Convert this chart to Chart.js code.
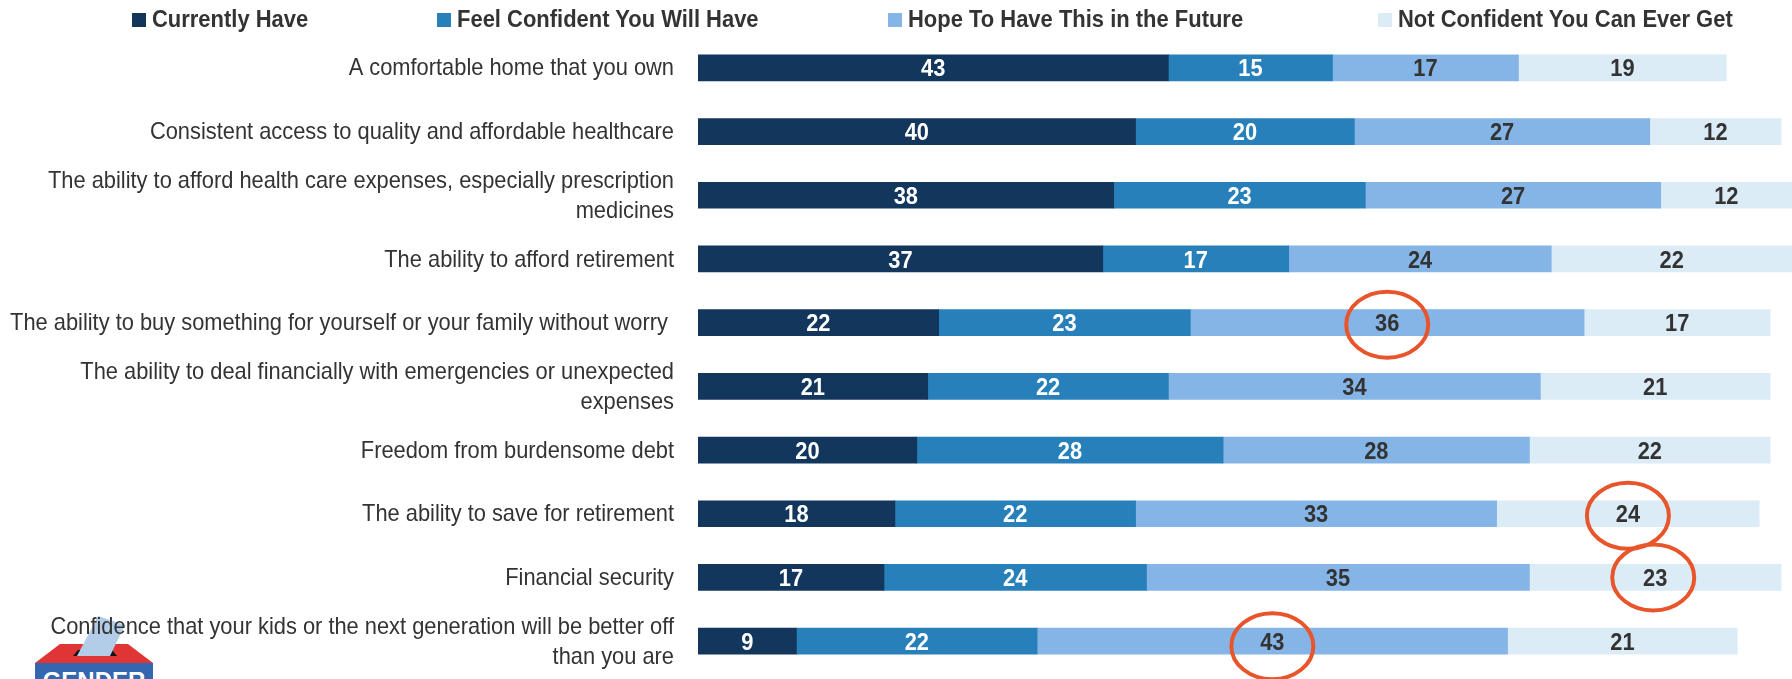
<!DOCTYPE html>
<html>
<head>
<meta charset="utf-8">
<title>Gender chart</title>
<script src="https://cdn.jsdelivr.net/npm/chart.js@4/dist/chart.umd.min.js"></script>
<style>
    html, body { margin: 0; padding: 0; background: #fff; overflow: hidden; }
    #wrap { position: relative; width: 1792px; height: 679px; overflow: hidden; }
    #myChart { position: absolute; left: 0; top: 0; z-index: 2; }
    #logo { position: absolute; left: 0; top: 0; z-index: 1; }
    .leg { position: absolute; top: 5px; z-index: 3; white-space: nowrap; color: #333;
        font: bold 24px "Liberation Sans"; line-height: 28px; }
    .leg i { position: absolute; left: 0; top: 8px; width: 14px; height: 14px; }
    .leg span { position: absolute; left: 20px; top: 0; transform: scaleX(0.915); transform-origin: 0 0; }
</style>
</head>
<body>
<div id="wrap">
    <svg id="logo" width="1792" height="679">
        <polygon points="35,663 60,644 128,644 153,663" fill="#E03535"/>
        <rect x="35" y="663" width="118" height="16" fill="#3566B0"/>
        <polygon points="73,656 78,650 112,650 117,656" fill="#111"/>
        <polygon points="77,656 110,656 125,625 98,616" fill="#B3CDE8"/>
        <text x="94" y="689" text-anchor="middle" fill="#fff" font-family="Liberation Sans" font-weight="bold" font-size="24">GENDER</text>
    </svg>
    <canvas id="myChart" width="1792" height="679"></canvas>
</div>
<script>
const categories = [
    'A comfortable home that you own',
    'Consistent access to quality and affordable healthcare',
    ['The ability to afford health care expenses, especially prescription', 'medicines'],
    'The ability to afford retirement',
    'The ability to buy something for yourself or your family without worry ',
    ['The ability to deal financially with emergencies or unexpected', 'expenses'],
    'Freedom from burdensome debt',
    'The ability to save for retirement',
    'Financial security',
    ['Confidence that your kids or the next generation will be better off', 'than you are']
];
const seriesNames = ['Currently Have', 'Feel Confident You Will Have', 'Hope To Have This in the Future', 'Not Confident You Can Ever Get'];
const currentlyHave = [43, 40, 38, 37, 22, 21, 20, 18, 17, 9];
const feelConfident = [15, 20, 23, 17, 23, 22, 28, 22, 24, 22];
const hopeToHave = [17, 27, 27, 24, 36, 34, 28, 33, 35, 43];
const notConfident = [19, 12, 12, 22, 17, 21, 22, 24, 23, 21];

const colors = ['#13375C', '#2880BA', '#85B5E6', '#DCECF7'];
const labelColors = ['#fff', '#fff', '#333', '#333'];
const legendX = [132, 437, 888, 1378];
const narrow = 0.91; // no narrow font here, so squeeze the text

// circled values: [row, series, x offset, y offset]
const circled = [[4, 2, 0, 2], [7, 3, 0, 2], [8, 3, -2, 0], [9, 2, 0, 5]];

// legend is html, the spacing of the original is uneven
seriesNames.forEach(function(name, i) {
    let el = document.createElement('div');
    el.className = 'leg';
    el.style.left = legendX[i] + 'px';
    el.innerHTML = '<i style="background:' + colors[i] + '"></i><span>' + name + '</span>';
    document.getElementById('wrap').appendChild(el);
});

function narrowText(ctx, text, x, y) {
    ctx.save();
    ctx.translate(x, y);
    ctx.scale(narrow, 1);
    ctx.fillText(text, 0, 0);
    ctx.restore();
}

const barLabels = {
    id: 'barLabels',
    afterDatasetsDraw(chart) {
        let ctx = chart.ctx;
        ctx.save();

        // category labels
        ctx.font = '24px "Liberation Sans"';
        ctx.fillStyle = '#333';
        ctx.textAlign = 'right';
        ctx.textBaseline = 'middle';
        categories.forEach(function(cat, i) {
            let y = chart.scales.y.getPixelForValue(i) + 1;
            if (Array.isArray(cat)) {
                narrowText(ctx, cat[0], 674, y - 15);
                narrowText(ctx, cat[1], 674, y + 15);
            } else {
                narrowText(ctx, cat, 674, y);
            }
        });

        // values
        ctx.font = 'bold 24px "Liberation Sans"';
        ctx.textAlign = 'center';
        chart.data.datasets.forEach(function(ds, i) {
            ctx.fillStyle = labelColors[i];
            chart.getDatasetMeta(i).data.forEach(function(bar, j) {
                narrowText(ctx, ds.data[j], (bar.base + bar.x) / 2, bar.y + 2);
            });
        });

        ctx.strokeStyle = '#E9552B';
        ctx.lineWidth = 4;
        circled.forEach(function(c) {
            let bar = chart.getDatasetMeta(c[1]).data[c[0]];
            ctx.beginPath();
            ctx.ellipse((bar.base + bar.x) / 2 + c[2], bar.y + c[3], 41, 33, 0, 0, Math.PI * 2);
            ctx.stroke();
        });
        ctx.restore();
    }
};

let ctx = document.getElementById('myChart').getContext('2d');
new Chart(ctx, {
    type: 'bar',
    data: {
        labels: categories,
        datasets: [currentlyHave, feelConfident, hopeToHave, notConfident].map(function(values, i) {
            return { label: seriesNames[i], data: values, backgroundColor: colors[i], barThickness: 26 };
        })
    },
    options: {
        indexAxis: 'y',
        responsive: false,
        animation: false,
        layout: { padding: { top: 36, bottom: 6, left: 0, right: 0 } },
        plugins: { legend: { display: false }, tooltip: { enabled: false } },
        scales: {
            x: { stacked: true, display: false, min: 0, max: 100 },
            y: {
                stacked: true,
                grid: { display: false, drawTicks: false },
                border: { display: false },
                afterFit(axis) { axis.width = 698; },
                ticks: { display: false }
            }
        }
    },
    plugins: [barLabels]
});
</script>
</body>
</html>
